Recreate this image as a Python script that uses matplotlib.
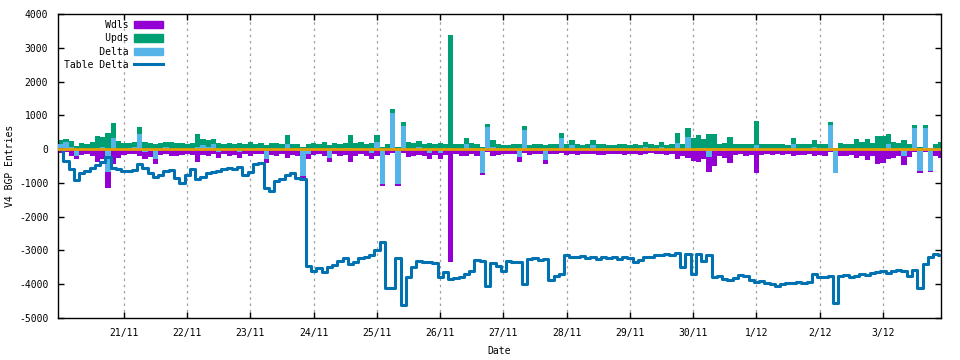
import pandas as pd
import matplotlib.pyplot as plt
from matplotlib.patches import Patch
from matplotlib.lines import Line2D

# two-hourly samples starting 19/11 23:00
start = "2019-11-19 23:00"

upds = [
    260, 300, 240, 90, 190, 160, 210, 400, 350, 480, 780, 250,
    170, 190, 200, 650, 220, 180, 150, 190, 210, 200, 180, 170,
    160, 190, 450, 300, 280, 300, 170, 150, 190, 160, 170, 140,
    220, 160, 190, 130, 170, 180, 150, 410, 160, 140, 60, 150,
    170, 150, 200, 120, 180, 160, 190, 420, 170, 200, 160, 180,
    410, 60, 160, 1180, 50, 800, 200, 180, 230, 150, 190, 160,
    170, 140, 3380, 150, 160, 330, 170, 150, 60, 740, 270, 150,
    130, 120, 140, 150, 680, 130, 160, 140, 120, 150, 140, 470,
    150, 270, 140, 130, 150, 270, 160, 140, 120, 130, 150, 140,
    130, 140, 120, 200, 140, 130, 200, 130, 150, 470, 160, 620,
    330, 420, 300, 440, 450, 160, 180, 370, 150, 140, 160, 150,
    830, 150, 140, 160, 150, 140, 130, 330, 150, 140, 160, 270,
    160, 150, 800, 20, 180, 160, 150, 290, 200, 290, 180, 400,
    380, 450, 200, 180, 270, 160, 720, 60, 720, 40, 150, 220,
]

wdls = [
    -120, -90, -190, -300, -170, -150, -200, -380, -300, -1150, -450, -260,
    -170, -150, -140, -200, -300, -240, -450, -180, -160, -200, -190, -170,
    -150, -180, -390, -170, -210, -160, -260, -150, -200, -170, -260, -160,
    -210, -160, -150, -420, -180, -190, -160, -250, -170, -200, -850, -300,
    -170, -150, -190, -390, -160, -200, -170, -380, -210, -160, -190, -300,
    -210, -1080, -170, -120, -1080, -110, -230, -200, -170, -190, -300, -180,
    -300, -170, -3350, -160, -190, -190, -150, -210, -780, -80, -200, -170,
    -150, -140, -160, -380, -110, -170, -150, -140, -440, -160, -150, -130,
    -180, -150, -170, -140, -160, -150, -180, -170, -140, -160, -150, -170,
    -160, -140, -170, -150, -130, -160, -150, -170, -140, -300, -200, -250,
    -360, -380, -280, -680, -500, -200, -250, -400, -180, -160, -200, -170,
    -720, -170, -150, -180, -160, -170, -150, -190, -170, -180, -160, -200,
    -180, -210, -80, -720, -190, -200, -180, -250, -200, -330, -190, -450,
    -400, -300, -250, -200, -470, -230, -90, -700, -90, -690, -200, -260,
]

table_delta = [
    0, -350, -600, -920, -720, -650, -560, -470, -380, -220, -570, -600,
    -640, -660, -620, -430, -560, -720, -830, -760, -650, -610, -870, -990,
    -760, -600, -900, -820, -720, -680, -640, -600, -570, -580, -520, -760,
    -690, -430, -410, -1150, -1250, -930, -880, -760, -720, -850, -900, -3450,
    -3600, -3520, -3650, -3500, -3430, -3300, -3220, -3400, -3350, -3220, -3200, -3150,
    -3000, -2750, -4100, -4120, -3220, -4620, -3780, -3500, -3300, -3330, -3350, -3380,
    -3800, -3650, -3840, -3820, -3780, -3700, -3620, -3280, -3300, -4050, -3380, -3450,
    -3600, -3300, -3330, -3350, -3980, -3250, -3230, -3280, -3250, -3870, -3750, -3700,
    -3150, -3180, -3200, -3160, -3220, -3200, -3250, -3190, -3230, -3200, -3260, -3200,
    -3230, -3330, -3280, -3200, -3180, -3140, -3150, -3100, -3130, -3080, -3500, -3100,
    -3700, -3120, -3300, -3150, -3800, -3750, -3850, -3880, -3820, -3720, -3750, -3880,
    -3920, -3900, -3950, -3980, -4050, -3980, -3960, -3950, -3920, -3960, -3930, -3700,
    -3800, -3780, -3750, -4550, -3760, -3730, -3780, -3750, -3700, -3720, -3680, -3650,
    -3620, -3680, -3620, -3570, -3620, -3750, -3580, -4120, -3400, -3180, -3100, -3150,
    -3060,
]

tick_days = ["2019-11-21", "2019-11-22", "2019-11-23", "2019-11-24", "2019-11-25",
             "2019-11-26", "2019-11-27", "2019-11-28", "2019-11-29", "2019-11-30",
             "2019-12-01", "2019-12-02", "2019-12-03"]
tick_labels = ["21/11", "22/11", "23/11", "24/11", "25/11", "26/11", "27/11",
               "28/11", "29/11", "30/11", "1/12", "2/12", "3/12"]

plt.rcParams["font.family"] = ["DejaVu Sans Mono"]
plt.rcParams["font.size"] = 7
plt.rcParams["axes.unicode_minus"] = False

bar_times = pd.date_range(start, periods=len(upds), freq="2h")
line_times = pd.date_range(start, periods=len(table_delta), freq="2h")
delta = [u + w for u, w in zip(upds, wdls)]
width = 2 / 24

c_wdls, c_upds, c_delta, c_table = "#9400d3", "#009e73", "#56b4e9", "#0072b2"

fig = plt.figure(figsize=(9.6, 3.6), dpi=100)
ax = fig.add_axes([0.0604, 0.1167, 0.9198, 0.8445])

ax.bar(bar_times, wdls, width=width, align="edge", color=c_wdls, zorder=2)
ax.bar(bar_times, upds, width=width, align="edge", color=c_upds, zorder=2)
ax.bar(bar_times, delta, width=width, align="edge", color=c_delta, zorder=3)
ax.step(line_times, table_delta, where="post", color=c_table, lw=2.2, zorder=4)
ax.axhline(0, color="#e69f00", lw=2, zorder=5)

ax.set_xlim(pd.Timestamp("2019-11-19 23:00"), pd.Timestamp("2019-12-03 22:00"))
ax.set_ylim(-5000, 4000)
ax.set_yticks(range(-5000, 4001, 1000))
ax.set_xticks([pd.Timestamp(d) for d in tick_days])
ax.set_xticklabels(tick_labels)

ax.tick_params(direction="in", top=True, right=True, length=4, width=1, pad=7)
ax.grid(axis="x", color="#a0a0a0", linestyle=(0, (2, 3)), lw=0.9)
ax.set_axisbelow(True)
for s in ax.spines.values():
    s.set_linewidth(1)

ax.set_xlabel("Date", labelpad=6)
ax.set_ylabel("V4 BGP Entries", labelpad=3)

# gnuplot style key: right-justified text, sample on the right
names = ["Wdls", "Upds", "Delta", "Table Delta"]
width_txt = max(len(n) for n in names)
handles = [Patch(color=c_wdls), Patch(color=c_upds), Patch(color=c_delta),
           Line2D([], [], color=c_table, lw=2.2)]
ax.legend(handles, [n.rjust(width_txt) for n in names],
          loc="upper left", bbox_to_anchor=(0.0, 1.0), frameon=False,
          markerfirst=False, handlelength=3.0, handleheight=0.8,
          handletextpad=0.6, labelspacing=0.35, borderaxespad=0.4,
          borderpad=0.2)

fig.savefig("out.png", dpi=100)
